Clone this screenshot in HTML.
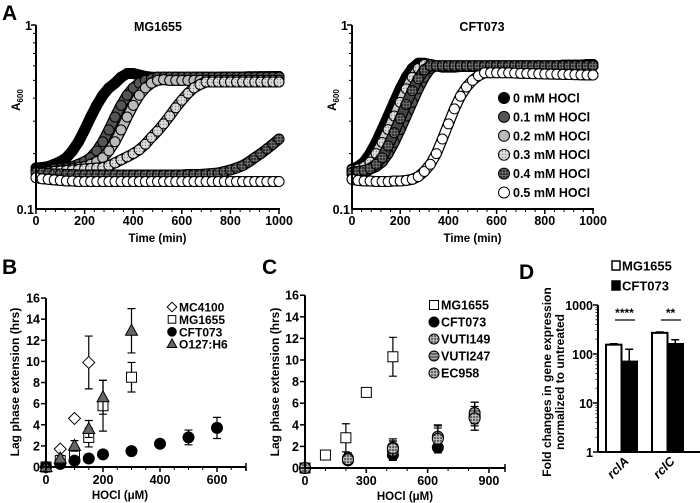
<!DOCTYPE html>
<html><head><meta charset="utf-8">
<style>
html,body{margin:0;padding:0;background:#fff;}
svg{display:block;font-family:"Liberation Sans",Arial,sans-serif;font-weight:bold;}
</style></head>
<body>
<svg id="fig" width="700" height="503" viewBox="0 0 700 503" xmlns="http://www.w3.org/2000/svg">
<defs>
<pattern id="pDots" width="3" height="3" patternUnits="userSpaceOnUse"><rect width="3" height="3" fill="#ddd"/><circle cx="1.5" cy="1.5" r="0.7" fill="#888"/></pattern>
<pattern id="pDark" width="3" height="3" patternUnits="userSpaceOnUse"><rect width="3" height="3" fill="#333"/><path d="M0 1.5H3M1.5 0V3" stroke="#777" stroke-width="0.7"/></pattern>
<pattern id="pGrid" width="3" height="3" patternUnits="userSpaceOnUse"><rect width="3" height="3" fill="#666"/><path d="M0 1.5H3M1.5 0V3" stroke="#ccc" stroke-width="0.7"/></pattern>
<pattern id="pStripe" width="3" height="3" patternUnits="userSpaceOnUse"><rect width="3" height="3" fill="#666"/><path d="M0 1.5H3" stroke="#bbb" stroke-width="0.8"/></pattern>
</defs>
<text x="2" y="20" font-size="21">A</text>
<text x="2" y="274" font-size="21">B</text>
<text x="262" y="274" font-size="21">C</text>
<text x="519" y="279" font-size="21">D</text>
</svg>
<script>
// ---------- Panel A data ----------
var timesA = [0,25,50,75,100,125,150,175,200,225,250,275,300,325,350,375,400,425,450,475,500,525,550,575,600,625,650,675,700,725,750,775,800,825,850,875,900,925,950,975,1000];
var concLabels = ["0 mM HOCl","0.1 mM HOCl","0.2 mM HOCl","0.3 mM HOCl","0.4 mM HOCl","0.5 mM HOCl"];
var mgA0 = [0.167,0.168,0.170,0.175,0.181,0.19,0.207,0.232,0.269,0.316,0.366,0.415,0.455,0.483,0.52,0.545,0.545,0.535,0.525,0.52,0.52,0.52,0.52,0.52,0.52,0.52,0.52,0.52,0.52,0.52,0.52,0.522,0.522,0.522,0.522,0.523,0.523,0.524,0.524,0.525,0.525];
var mgA1 = [0.16,0.16,0.161,0.165,0.166,0.168,0.170,0.175,0.181,0.19,0.207,0.232,0.269,0.316,0.366,0.415,0.455,0.483,0.50,0.51,0.52,0.52,0.52,0.52,0.52,0.52,0.52,0.52,0.52,0.52,0.52,0.52,0.52,0.52,0.52,0.52,0.52,0.52,0.52,0.52,0.52];
var mgA2 = [0.158,0.158,0.159,0.16,0.162,0.165,0.166,0.168,0.170,0.175,0.181,0.19,0.207,0.232,0.269,0.316,0.366,0.415,0.455,0.483,0.50,0.505,0.50,0.50,0.50,0.50,0.50,0.50,0.50,0.50,0.50,0.50,0.50,0.50,0.50,0.50,0.50,0.50,0.50,0.50,0.50];
var mgA3 = [0.158,0.158,0.159,0.160,0.161,0.162,0.163,0.164,0.165,0.166,0.167,0.168,0.172,0.178,0.185,0.192,0.2,0.21,0.225,0.245,0.265,0.29,0.32,0.355,0.39,0.425,0.455,0.475,0.49,0.49,0.49,0.49,0.49,0.49,0.49,0.49,0.49,0.49,0.49,0.49,0.49];
var mgA4 = [0.158,0.157,0.156,0.155,0.155,0.154,0.154,0.153,0.153,0.153,0.153,0.153,0.153,0.153,0.153,0.153,0.153,0.153,0.153,0.153,0.153,0.153,0.153,0.153,0.153,0.154,0.154,0.154,0.155,0.156,0.157,0.16,0.163,0.167,0.172,0.18,0.19,0.2,0.212,0.225,0.24];
var mgA5 = [0.148,0.146,0.145,0.144,0.143,0.142,0.142,0.141,0.141,0.141,0.141,0.141,0.141,0.141,0.141,0.141,0.141,0.141,0.141,0.141,0.141,0.141,0.141,0.141,0.141,0.141,0.141,0.141,0.141,0.141,0.141,0.141,0.141,0.141,0.141,0.141,0.141,0.141,0.141,0.141,0.141];
var cfA0 = [0.165,0.17,0.18,0.20,0.23,0.27,0.32,0.38,0.45,0.52,0.58,0.62,0.62,0.61,0.60,0.59,0.59,0.59,0.595,0.595,0.595,0.595,0.595,0.60,0.60,0.60,0.60,0.60,0.60,0.60,0.60,0.60,0.60,0.60,0.60,0.605,0.605,0.605,0.605,0.61,0.61];
var cfA1 = [0.155,0.155,0.157,0.165,0.17,0.18,0.20,0.23,0.27,0.32,0.38,0.45,0.52,0.58,0.60,0.60,0.60,0.60,0.60,0.60,0.60,0.60,0.60,0.60,0.60,0.60,0.60,0.60,0.60,0.60,0.60,0.60,0.60,0.60,0.60,0.60,0.60,0.60,0.60,0.60,0.60];
var cfA2 = [0.16,0.162,0.165,0.17,0.18,0.20,0.23,0.27,0.32,0.38,0.45,0.52,0.58,0.60,0.60,0.60,0.60,0.60,0.60,0.60,0.60,0.60,0.60,0.60,0.60,0.60,0.60,0.60,0.60,0.60,0.60,0.60,0.60,0.60,0.60,0.60,0.60,0.60,0.60,0.60,0.60];
var cfA3 = [0.163,0.165,0.17,0.18,0.20,0.23,0.27,0.32,0.38,0.45,0.52,0.58,0.61,0.61,0.60,0.60,0.60,0.60,0.60,0.60,0.60,0.60,0.60,0.60,0.60,0.60,0.60,0.60,0.60,0.60,0.60,0.60,0.60,0.60,0.60,0.60,0.60,0.60,0.60,0.60,0.60];
var cfA4 = [0.158,0.16,0.162,0.166,0.175,0.19,0.22,0.26,0.31,0.37,0.44,0.51,0.57,0.60,0.60,0.60,0.60,0.60,0.60,0.60,0.60,0.60,0.60,0.60,0.60,0.60,0.60,0.60,0.60,0.60,0.60,0.60,0.60,0.60,0.60,0.60,0.60,0.60,0.60,0.60,0.60];
var cfA5 = [0.145,0.143,0.142,0.142,0.141,0.141,0.141,0.142,0.142,0.143,0.145,0.15,0.16,0.175,0.2,0.24,0.29,0.35,0.41,0.46,0.50,0.53,0.55,0.55,0.55,0.55,0.55,0.548,0.546,0.545,0.544,0.543,0.542,0.541,0.54,0.539,0.538,0.537,0.536,0.535,0.535];
var fillsA = ["#000","#555","#bbb","url(#pDots)","url(#pDark)","#fff"];
var bandA = ["#000","#555","#bbb","#ccc","#444","#fff"];

// ---------- Panel B data ----------
var bStrains = ["MC4100","MG1655","CFT073","O127:H6"];
var bX_MC = [0,50,100,150];          var bY_MC = [0,1.7,4.6,9.9];        var bE_MC = [0,0,0,2.5];
var bX_MG = [0,50,100,150,200,300];  var bY_MG = [0,0.6,1.3,2.8,5.8,8.5]; var bE_MG = [0,0.3,0.5,0.9,2.4,1.4];
var bX_CF = [0,50,100,150,200,300,400,500,600]; var bY_CF = [0,0.3,0.6,0.8,1.2,1.5,2.2,2.8,3.7]; var bE_CF = [0,0,0,0,0,0,0,0.7,1.0];
var bX_O = [0,50,100,150,200,300];   var bY_O = [0,0.8,2.0,3.6,6.6,12.9]; var bE_O = [0,0.3,0.5,0.8,1.6,2.1];
var lagTicks = [0,2,4,6,8,10,12,14,16];
var bXTicks = [0,200,400,600];

// ---------- Panel C data ----------
var cStrains = ["MG1655","CFT073","VUTI149","VUTI247","EC958"];
var cX_MG = [0,100,200,300,430];  var cY_MG = [0,1.2,2.8,7.0,10.3]; var cE_MG = [0,0.3,1.3,0.4,1.8];
var cX_cl = [0,210,430,650,830];
var cY_CF = [0,0.7,1.2,1.9,4.7];  var cE_CF = [0,0.3,0.3,0.5,0.8];
var cY_V149 = [0,0.9,1.6,2.8,4.8]; var cE_V149 = [0,0.5,0.9,1.2,1.3];
var cY_V247 = [0,0.8,1.9,2.9,5.1]; var cE_V247 = [0,0.4,0.8,1.0,1.0];
var cY_EC = [0,0.8,1.8,2.7,4.6];   var cE_EC = [0,0.4,0.7,1.0,1.1];
var cXTicks = [0,300,600,900];

// ---------- Panel D data ----------
var dGenes = ["rclA","rclC"];
var dMG = [155,270]; var dMGErr = [162,282];
var dCF = [70,160];  var dCFErr = [125,195];
var dSig = ["****","**"];
var dTicks = [1,10,100,1000];

var svg = document.getElementById('fig');
var NS = "http://www.w3.org/2000/svg";
function mk(tag, attrs, parent){
  var e = document.createElementNS(NS, tag);
  for (var k in attrs) e.setAttribute(k, attrs[k]);
  (parent||svg).appendChild(e);
  return e;
}
function txt(s, attrs, parent){ var t = mk('text', attrs, parent); t.textContent = s; return t; }

// ---------- Panel A ----------
function panelA(x0, x1, title, titleX, series, legend, groupName){
  var g = mk('g', {});
  
  
  var yT = 25, yB = 209;
  function sx(t){ return x0 + (x1 - x0) * t / 1000; }
  function sy(v){ return yB - (Math.log10(v) + 1) * (yB - yT); }
  for (var s = 0; s < series.length; s++){
    var sg = mk('g', {}, g);
    
    
    var pts = [];
    for (var i = 0; i < timesA.length; i++) pts.push(sx(timesA[i]) + ',' + sy(series[s][i]));
    mk('polyline', {points: pts.join(' '), fill: 'none', stroke: '#000', 'stroke-width': 11, 'stroke-linejoin': 'round', 'stroke-linecap': 'round'}, sg);
    mk('polyline', {points: pts.join(' '), fill: 'none', stroke: bandA[s], 'stroke-width': 8.5, 'stroke-linejoin': 'round', 'stroke-linecap': 'round'}, sg);
    for (var j = 0; j < timesA.length; j++){
      var c = mk('circle', {cx: sx(timesA[j]), cy: sy(series[s][j]), r: 5, fill: fillsA[s], stroke: '#000', 'stroke-width': 1}, sg);
      
      
    }
  }
  var ya = mk('line', {x1: x0, y1: yT, x2: x0, y2: yB, stroke: '#000', 'stroke-width': 2}, g);
  
  
  var xa = mk('line', {x1: x0, y1: yB, x2: x1 + 1, y2: yB, stroke: '#000', 'stroke-width': 2}, g);
  
  
  for (var m = 2; m <= 9; m++){
    var yy = sy(m / 10);
    mk('line', {x1: x0 - 3, y1: yy, x2: x0, y2: yy, stroke: '#000', 'stroke-width': 1}, g);
  }
  mk('line', {x1: x0 - 5, y1: yT, x2: x0, y2: yT, stroke: '#000', 'stroke-width': 1.5}, g);
  for (var t = 0; t <= 1000; t += 40){
    mk('line', {x1: sx(t), y1: yB, x2: sx(t), y2: yB + 3, stroke: '#000', 'stroke-width': 1}, g);
  }
  for (var t2 = 0; t2 <= 1000; t2 += 200){
    mk('line', {x1: sx(t2), y1: yB, x2: sx(t2), y2: yB + 5, stroke: '#000', 'stroke-width': 1.5}, g);
    var tl = txt(String(t2), {x: sx(t2), y: 225, 'font-size': 12.5, 'text-anchor': 'middle'}, g);
    
    
  }
  var l1 = txt('1', {x: x0 - 4, y: 30, 'font-size': 12.5, 'text-anchor': 'end'}, g);
  
  
  var l2 = txt('0.1', {x: x0 - 2, y: 214, 'font-size': 12.5, 'text-anchor': 'end'}, g);
  
  
  var xt = txt('Time (min)', {x: (x0 + x1) / 2, y: 242, 'font-size': 11.5, 'text-anchor': 'middle'}, g);
  
  
  var yl = txt('', {x: 0, y: 0, 'font-size': 11.5, 'text-anchor': 'middle', transform: 'translate(' + (x0 - 16) + ',100) rotate(-90)'}, g);
  yl.innerHTML = 'A<tspan font-size="8" dy="3">600</tspan>';
  
  
  var tt = txt(title, {x: titleX, y: 31, 'font-size': 12.5, 'text-anchor': 'middle'}, g);
  
  
  if (legend){
    var lg = mk('g', {}, g);
    
    
    for (var k = 0; k < concLabels.length; k++){
      var yy2 = 98 + k * 18.9;
      var le = mk('g', {}, lg);
      
      
      mk('circle', {cx: 504, cy: yy2, r: 5.5, fill: fillsA[k], stroke: '#000', 'stroke-width': 1}, le);
      txt(concLabels[k], {x: 513, y: yy2 + 4.5, 'font-size': 12.5}, le);
    }
  }
}
panelA(36, 279, 'MG1655', 158, [mgA0, mgA1, mgA2, mgA3, mgA4, mgA5], false, 'growth-chart-mg1655');
panelA(352, 593, 'CFT073', 482, [cfA0, cfA1, cfA2, cfA3, cfA4, cfA5], true, 'growth-chart-cft073');

// ---------- helpers for scatter panels ----------
function marker(shape, x, y, fill, parent, sz){
  var h = sz || 5, e;
  if (shape === 'square') e = mk('rect', {x: x - h, y: y - h, width: 2 * h, height: 2 * h, fill: fill, stroke: '#000', 'stroke-width': 1}, parent);
  else if (shape === 'diamond') e = mk('polygon', {points: x + ',' + (y - h - 1) + ' ' + (x + h + 1) + ',' + y + ' ' + x + ',' + (y + h + 1) + ' ' + (x - h - 1) + ',' + y, fill: fill, stroke: '#000', 'stroke-width': 1}, parent);
  else if (shape === 'triangle') e = mk('polygon', {points: x + ',' + (y - h - 1.5) + ' ' + (x + h + 1) + ',' + (y + h - 0.5) + ' ' + (x - h - 1) + ',' + (y + h - 0.5), fill: fill, stroke: '#000', 'stroke-width': 1}, parent);
  else e = mk('circle', {cx: x, cy: y, r: h + 0.5, fill: fill, stroke: '#000', 'stroke-width': 1}, parent);
  return e;
}
function scatterPanel(opt){
  var g = mk('g', {});
  
  
  var sx = function(v){ return opt.x0 + v * opt.kx; };
  var sy = function(v){ return opt.y0 - v * opt.ky; };
  for (var s = 0; s < opt.series.length; s++){
    var ser = opt.series[s];
    var sg = mk('g', {}, g);
    
    
    for (var i = 0; i < ser.x.length; i++){
      var px = sx(ser.x[i]), py = sy(ser.y[i]);
      if (ser.e[i] > 0){
        var top = sy(ser.y[i] + ser.e[i]), bot = sy(Math.max(0, ser.y[i] - ser.e[i]));
        mk('path', {d: 'M' + px + ' ' + top + 'V' + bot + 'M' + (px - 4) + ' ' + top + 'H' + (px + 4) + 'M' + (px - 4) + ' ' + bot + 'H' + (px + 4), stroke: '#000', 'stroke-width': 1.2, fill: 'none'}, sg);
      }
      var mkr = marker(ser.shape, px, py, ser.fill, sg);
      
      
    }
  }
  var ya = mk('line', {x1: opt.x0, y1: sy(16), x2: opt.x0, y2: opt.y0, stroke: '#000', 'stroke-width': 2}, g);
  
  
  var xa = mk('line', {x1: opt.x0, y1: opt.y0, x2: opt.xEnd, y2: opt.y0, stroke: '#000', 'stroke-width': 2}, g);
  
  
  mk('line', {x1: opt.xEnd, y1: opt.y0 - 4, x2: opt.xEnd, y2: opt.y0 + 4, stroke: '#000', 'stroke-width': 1.5}, g);
  for (var k = 0; k < lagTicks.length; k++){
    var yy = sy(lagTicks[k]);
    mk('line', {x1: opt.x0 - 5, y1: yy, x2: opt.x0, y2: yy, stroke: '#000', 'stroke-width': 1.5}, g);
    var tl = txt(String(lagTicks[k]), {x: opt.x0 - 6, y: yy + 4.5, 'font-size': 12.5, 'text-anchor': 'end'}, g);
    
    
  }
  for (var m = opt.minor; m < (opt.xEnd - opt.x0) / opt.kx; m += opt.minor){
    mk('line', {x1: sx(m), y1: opt.y0, x2: sx(m), y2: opt.y0 + 3, stroke: '#000', 'stroke-width': 1}, g);
  }
  for (var j = 0; j < opt.xTicks.length; j++){
    var xx = sx(opt.xTicks[j]);
    mk('line', {x1: xx, y1: opt.y0, x2: xx, y2: opt.y0 + 5, stroke: '#000', 'stroke-width': 1.5}, g);
    var xl = txt(String(opt.xTicks[j]), {x: xx, y: opt.y0 + 17, 'font-size': 12.5, 'text-anchor': 'middle'}, g);
    
    
  }
  var xt = txt('HOCl (\u03bcM)', {x: opt.xTitleX, y: opt.y0 + 32, 'font-size': 11.5, 'text-anchor': 'middle'}, g);
  
  
  var yt = txt('Lag phase extension (hrs)', {x: 0, y: 0, 'font-size': 12, 'text-anchor': 'middle', transform: 'translate(' + opt.yTitleX + ',382) rotate(-90)'}, g);
  
  
  var lg = mk('g', {}, g);
  
  
  for (var q = 0; q < opt.series.length; q++){
    var ly = opt.legY + q * opt.legDy;
    var le = mk('g', {}, lg);
    
    
    marker(opt.series[q].shape, opt.legX, ly, opt.series[q].fill, le, opt.legSz);
    txt(opt.series[q].label, {x: opt.legX + 7, y: ly + 4.5, 'font-size': opt.legFont}, le);
  }
}
scatterPanel({name: 'lag-chart-b', x0: 46, y0: 467, kx: 0.285, ky: 10.56, xEnd: 246, minor: 50, xTicks: bXTicks, xTitleX: 120, yTitleX: 19,
  legX: 172, legY: 307, legDy: 12.4, legSz: 3.8, legFont: 12,
  series: [
    {label: bStrains[0], shape: 'diamond', fill: '#fff', x: bX_MC, y: bY_MC, e: bE_MC},
    {label: bStrains[1], shape: 'square', fill: '#fff', x: bX_MG, y: bY_MG, e: bE_MG},
    {label: bStrains[2], shape: 'circle', fill: '#000', x: bX_CF, y: bY_CF, e: bE_CF},
    {label: bStrains[3], shape: 'triangle', fill: '#666', x: bX_O, y: bY_O, e: bE_O}
  ]});
scatterPanel({name: 'lag-chart-c', x0: 305, y0: 468, kx: 0.2044, ky: 10.8, xEnd: 505, minor: 100, xTicks: cXTicks, xTitleX: 405, yTitleX: 279,
  legX: 434, legY: 305, legDy: 17, legSz: 4.5, legFont: 12.5,
  series: [
    {label: cStrains[0], shape: 'square', fill: '#fff', x: cX_MG, y: cY_MG, e: cE_MG},
    {label: cStrains[1], shape: 'circle', fill: '#000', x: cX_cl, y: cY_CF, e: cE_CF},
    {label: cStrains[2], shape: 'circle', fill: 'url(#pGrid)', x: cX_cl, y: cY_V149, e: cE_V149},
    {label: cStrains[3], shape: 'circle', fill: 'url(#pStripe)', x: cX_cl, y: cY_V247, e: cE_V247},
    {label: cStrains[4], shape: 'circle', fill: 'url(#pGrid)', x: cX_cl, y: cY_EC, e: cE_EC}
  ]});

// ---------- Panel D ----------
(function(){
  var g = mk('g', {});
  
  
  var x0 = 598, y0 = 452, yTop = 305, dec = (y0 - yTop) / 3, xEnd = 700;
  function sy(v){ return y0 - Math.log10(v) * dec; }
  var groupX = [606, 652], bw = 15.5;
  for (var i = 0; i < dGenes.length; i++){
    var gx = groupX[i];
    mk('path', {d: 'M' + (gx + bw / 2) + ' ' + sy(dMG[i]) + 'V' + sy(dMGErr[i]) + 'M' + (gx + bw / 2 - 4) + ' ' + sy(dMGErr[i]) + 'H' + (gx + bw / 2 + 4), stroke: '#000', 'stroke-width': 1.5}, g);
    mk('path', {d: 'M' + (gx + bw * 1.5) + ' ' + sy(dCF[i]) + 'V' + sy(dCFErr[i]) + 'M' + (gx + bw * 1.5 - 4) + ' ' + sy(dCFErr[i]) + 'H' + (gx + bw * 1.5 + 4), stroke: '#000', 'stroke-width': 1.5}, g);
    var b1 = mk('rect', {x: gx, y: sy(dMG[i]), width: bw, height: y0 - sy(dMG[i]), fill: '#fff', stroke: '#000', 'stroke-width': 2}, g);
    
    
    var b2 = mk('rect', {x: gx + bw, y: sy(dCF[i]), width: bw, height: y0 - sy(dCF[i]), fill: '#000', stroke: '#000', 'stroke-width': 2}, g);
    
    
    var sl = mk('line', {x1: gx + 9, y1: 320, x2: gx + 2 * bw - 2, y2: 320, stroke: '#000', 'stroke-width': 1.2}, g);
    
    
    var st = txt(dSig[i], {x: gx + bw + 3, y: 317, 'font-size': 12, 'text-anchor': 'middle'}, g);
    
    
    var gl = txt(dGenes[i], {x: 0, y: 0, 'font-size': 12.5, 'font-style': 'italic', 'text-anchor': 'end', transform: 'translate(' + (gx + bw + 8) + ',462) rotate(-45)'}, g);
    
    
  }
  var ya = mk('line', {x1: x0, y1: yTop, x2: x0, y2: y0, stroke: '#000', 'stroke-width': 2}, g);
  
  
  var xa = mk('line', {x1: x0, y1: y0, x2: xEnd, y2: y0, stroke: '#000', 'stroke-width': 2}, g);
  
  
  for (var k = 0; k < dTicks.length; k++){
    var yy = sy(dTicks[k]);
    mk('line', {x1: x0 - 5, y1: yy, x2: x0, y2: yy, stroke: '#000', 'stroke-width': 1.5}, g);
    var tl = txt(String(dTicks[k]), {x: x0 - 5, y: yy + 5, 'font-size': 12.5, 'text-anchor': 'end'}, g);
    
    
    if (k < dTicks.length - 1){
      for (var m = 2; m <= 9; m++){
        var ym = sy(dTicks[k] * m);
        mk('line', {x1: x0 - 2.5, y1: ym, x2: x0, y2: ym, stroke: '#000', 'stroke-width': 0.8}, g);
      }
    }
  }
  var yt = mk('text', {x: 0, y: 0, 'font-size': 12, 'text-anchor': 'middle', transform: 'translate(551,382) rotate(-90)'}, g);
  
  
  yt.innerHTML = '<tspan x="0" dy="0">Fold changes in gene expression</tspan><tspan x="0" dy="13">normalized to untreated</tspan>';
  var lg = mk('g', {}, g);
  
  
  var e1 = mk('g', {}, lg);
  
  
  mk('rect', {x: 612, y: 261, width: 8, height: 9, fill: '#fff', stroke: '#000', 'stroke-width': 1.5}, e1);
  txt('MG1655', {x: 622, y: 270.5, 'font-size': 13}, e1);
  var e2 = mk('g', {}, lg);
  
  
  mk('rect', {x: 612, y: 281, width: 8, height: 9, fill: '#000', stroke: '#000', 'stroke-width': 1.5}, e2);
  txt('CFT073', {x: 622, y: 290.5, 'font-size': 13}, e2);
})();
</script>
</body></html>
